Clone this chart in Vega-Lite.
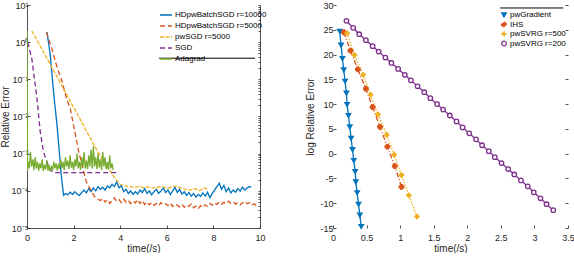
{
"$schema": "https://vega.github.io/schema/vega-lite/v6.json",
"padding": {"left": 0, "top": 1, "right": 0, "bottom": 0},
"bounds": "flush",
"spacing": 73,
"resolve": {"scale": {"color": "independent", "strokeDash": "independent", "shape": "independent", "fill": "independent"}, "legend": {"color": "independent", "strokeDash": "independent", "shape": "independent", "fill": "independent"}},
"config": {
  "font": "Liberation Sans",
  "view": {"stroke": null},
  "axis": {"grid": false, "labelFontSize": 9, "titleFontSize": 10, "titleFontWeight": "normal", "labelColor": "#262626", "titleColor": "#262626", "domainColor": "#262626", "tickColor": "#262626", "tickSize": -3, "labelPadding": 3, "titlePadding": 2, "domainWidth": 0.8, "tickWidth": 0.8, "labelOverlap": false, "labelFlush": false},
  "axisX": {"labelPadding": 8, "titlePadding": 1},
  "legend": {"labelFontSize": 8, "labelColor": "#000", "symbolSize": 144, "rowPadding": -1.5, "padding": 0, "labelOffset": 2, "symbolStrokeWidth": 1.5}
},
"datasets": {
"left": [
{"s":"HDpwBatchSGD r=10000","t":0.86,"e":1.86},{"s":"HDpwBatchSGD r=10000","t":1.0,"e":0.44},{"s":"HDpwBatchSGD r=10000","t":1.14,"e":0.045},{"s":"HDpwBatchSGD r=10000","t":1.29,"e":0.0057},{"s":"HDpwBatchSGD r=10000","t":1.4,"e":0.0009},{"s":"HDpwBatchSGD r=10000","t":1.47,"e":0.00026},{"s":"HDpwBatchSGD r=10000","t":1.57,"e":7.6e-5},
{"s":"HDpwBatchSGD r=10000","t":1.65,"e":8.5e-5},{"s":"HDpwBatchSGD r=10000","t":1.75,"e":7.8e-5},{"s":"HDpwBatchSGD r=10000","t":1.85,"e":9.2e-5},{"s":"HDpwBatchSGD r=10000","t":1.95,"e":8.0e-5},{"s":"HDpwBatchSGD r=10000","t":2.05,"e":9.5e-5},{"s":"HDpwBatchSGD r=10000","t":2.15,"e":8.2e-5},{"s":"HDpwBatchSGD r=10000","t":2.25,"e":7.5e-5},{"s":"HDpwBatchSGD r=10000","t":2.35,"e":9.0e-5},{"s":"HDpwBatchSGD r=10000","t":2.45,"e":1.05e-4},{"s":"HDpwBatchSGD r=10000","t":2.55,"e":8.8e-5},{"s":"HDpwBatchSGD r=10000","t":2.65,"e":1.15e-4},{"s":"HDpwBatchSGD r=10000","t":2.75,"e":9.5e-5},{"s":"HDpwBatchSGD r=10000","t":2.85,"e":1.2e-4},{"s":"HDpwBatchSGD r=10000","t":2.95,"e":1.0e-4},{"s":"HDpwBatchSGD r=10000","t":3.05,"e":1.3e-4},{"s":"HDpwBatchSGD r=10000","t":3.15,"e":1.1e-4},{"s":"HDpwBatchSGD r=10000","t":3.25,"e":1.25e-4},{"s":"HDpwBatchSGD r=10000","t":3.35,"e":1.05e-4},{"s":"HDpwBatchSGD r=10000","t":3.45,"e":1.35e-4},{"s":"HDpwBatchSGD r=10000","t":3.55,"e":1.2e-4},{"s":"HDpwBatchSGD r=10000","t":3.65,"e":1.5e-4},{"s":"HDpwBatchSGD r=10000","t":3.75,"e":1.3e-4},{"s":"HDpwBatchSGD r=10000","t":3.85,"e":1.75e-4},{"s":"HDpwBatchSGD r=10000","t":3.95,"e":1.2e-4},{"s":"HDpwBatchSGD r=10000","t":4.05,"e":1.4e-4},{"s":"HDpwBatchSGD r=10000","t":4.15,"e":9.5e-5},{"s":"HDpwBatchSGD r=10000","t":4.25,"e":1.1e-4},{"s":"HDpwBatchSGD r=10000","t":4.35,"e":8.5e-5},{"s":"HDpwBatchSGD r=10000","t":4.45,"e":1.0e-4},{"s":"HDpwBatchSGD r=10000","t":4.55,"e":8.0e-5},{"s":"HDpwBatchSGD r=10000","t":4.65,"e":9.5e-5},{"s":"HDpwBatchSGD r=10000","t":4.75,"e":8.2e-5},{"s":"HDpwBatchSGD r=10000","t":4.85,"e":1.05e-4},{"s":"HDpwBatchSGD r=10000","t":4.95,"e":9.0e-5},{"s":"HDpwBatchSGD r=10000","t":5.05,"e":1.15e-4},{"s":"HDpwBatchSGD r=10000","t":5.15,"e":8.5e-5},{"s":"HDpwBatchSGD r=10000","t":5.25,"e":1.0e-4},{"s":"HDpwBatchSGD r=10000","t":5.35,"e":7.8e-5},{"s":"HDpwBatchSGD r=10000","t":5.45,"e":9.5e-5},{"s":"HDpwBatchSGD r=10000","t":5.55,"e":1.1e-4},{"s":"HDpwBatchSGD r=10000","t":5.65,"e":8.5e-5},{"s":"HDpwBatchSGD r=10000","t":5.75,"e":1.0e-4},{"s":"HDpwBatchSGD r=10000","t":5.85,"e":1.2e-4},{"s":"HDpwBatchSGD r=10000","t":5.95,"e":9.0e-5},{"s":"HDpwBatchSGD r=10000","t":6.05,"e":1.05e-4},{"s":"HDpwBatchSGD r=10000","t":6.15,"e":8.0e-5},{"s":"HDpwBatchSGD r=10000","t":6.25,"e":9.8e-5},{"s":"HDpwBatchSGD r=10000","t":6.35,"e":1.25e-4},{"s":"HDpwBatchSGD r=10000","t":6.45,"e":9.0e-5},{"s":"HDpwBatchSGD r=10000","t":6.55,"e":1.1e-4},{"s":"HDpwBatchSGD r=10000","t":6.65,"e":8.2e-5},{"s":"HDpwBatchSGD r=10000","t":6.75,"e":9.5e-5},{"s":"HDpwBatchSGD r=10000","t":6.85,"e":7.5e-5},{"s":"HDpwBatchSGD r=10000","t":6.95,"e":9.0e-5},{"s":"HDpwBatchSGD r=10000","t":7.05,"e":7.2e-5},{"s":"HDpwBatchSGD r=10000","t":7.15,"e":8.5e-5},{"s":"HDpwBatchSGD r=10000","t":7.25,"e":6.8e-5},{"s":"HDpwBatchSGD r=10000","t":7.35,"e":8.0e-5},{"s":"HDpwBatchSGD r=10000","t":7.45,"e":7.0e-5},{"s":"HDpwBatchSGD r=10000","t":7.55,"e":8.8e-5},{"s":"HDpwBatchSGD r=10000","t":7.65,"e":7.2e-5},{"s":"HDpwBatchSGD r=10000","t":7.75,"e":9.2e-5},{"s":"HDpwBatchSGD r=10000","t":7.85,"e":6.5e-5},{"s":"HDpwBatchSGD r=10000","t":7.95,"e":8.5e-5},{"s":"HDpwBatchSGD r=10000","t":8.05,"e":1.05e-4},{"s":"HDpwBatchSGD r=10000","t":8.15,"e":1.3e-4},{"s":"HDpwBatchSGD r=10000","t":8.25,"e":1.6e-4},{"s":"HDpwBatchSGD r=10000","t":8.35,"e":1.1e-4},{"s":"HDpwBatchSGD r=10000","t":8.45,"e":1.4e-4},{"s":"HDpwBatchSGD r=10000","t":8.55,"e":9.5e-5},{"s":"HDpwBatchSGD r=10000","t":8.65,"e":1.2e-4},{"s":"HDpwBatchSGD r=10000","t":8.75,"e":8.8e-5},{"s":"HDpwBatchSGD r=10000","t":8.85,"e":1.05e-4},{"s":"HDpwBatchSGD r=10000","t":8.95,"e":9.2e-5},{"s":"HDpwBatchSGD r=10000","t":9.05,"e":1.15e-4},{"s":"HDpwBatchSGD r=10000","t":9.15,"e":9.8e-5},{"s":"HDpwBatchSGD r=10000","t":9.25,"e":1.25e-4},{"s":"HDpwBatchSGD r=10000","t":9.35,"e":1.05e-4},{"s":"HDpwBatchSGD r=10000","t":9.45,"e":1.2e-4},{"s":"HDpwBatchSGD r=10000","t":9.55,"e":1.3e-4},{"s":"HDpwBatchSGD r=10000","t":9.62,"e":1.25e-4},
{"s":"HDpwBatchSGD r=5000","t":0.83,"e":1.86},{"s":"HDpwBatchSGD r=5000","t":1.07,"e":0.66},{"s":"HDpwBatchSGD r=5000","t":1.3,"e":0.2},{"s":"HDpwBatchSGD r=5000","t":1.5,"e":0.09},{"s":"HDpwBatchSGD r=5000","t":1.7,"e":0.03},{"s":"HDpwBatchSGD r=5000","t":1.86,"e":0.016},{"s":"HDpwBatchSGD r=5000","t":2.05,"e":0.004},{"s":"HDpwBatchSGD r=5000","t":2.21,"e":0.0012},{"s":"HDpwBatchSGD r=5000","t":2.4,"e":0.0004},{"s":"HDpwBatchSGD r=5000","t":2.54,"e":0.00018},{"s":"HDpwBatchSGD r=5000","t":2.75,"e":1.0e-4},{"s":"HDpwBatchSGD r=5000","t":2.9,"e":7e-5},{"s":"HDpwBatchSGD r=5000","t":3.03,"e":6e-5},{"s":"HDpwBatchSGD r=5000","t":3.15,"e":5.5e-5},
{"s":"HDpwBatchSGD r=5000","t":3.25,"e":6.2e-5},{"s":"HDpwBatchSGD r=5000","t":3.35,"e":5.0e-5},{"s":"HDpwBatchSGD r=5000","t":3.45,"e":5.8e-5},{"s":"HDpwBatchSGD r=5000","t":3.55,"e":4.6e-5},{"s":"HDpwBatchSGD r=5000","t":3.65,"e":5.5e-5},{"s":"HDpwBatchSGD r=5000","t":3.75,"e":6.5e-5},{"s":"HDpwBatchSGD r=5000","t":3.85,"e":5.2e-5},{"s":"HDpwBatchSGD r=5000","t":3.95,"e":5.8e-5},{"s":"HDpwBatchSGD r=5000","t":4.05,"e":4.8e-5},{"s":"HDpwBatchSGD r=5000","t":4.15,"e":6.0e-5},{"s":"HDpwBatchSGD r=5000","t":4.25,"e":5.0e-5},{"s":"HDpwBatchSGD r=5000","t":4.35,"e":5.6e-5},{"s":"HDpwBatchSGD r=5000","t":4.45,"e":4.5e-5},{"s":"HDpwBatchSGD r=5000","t":4.55,"e":5.3e-5},{"s":"HDpwBatchSGD r=5000","t":4.65,"e":4.7e-5},{"s":"HDpwBatchSGD r=5000","t":4.75,"e":5.8e-5},{"s":"HDpwBatchSGD r=5000","t":4.85,"e":4.6e-5},{"s":"HDpwBatchSGD r=5000","t":4.95,"e":5.5e-5},{"s":"HDpwBatchSGD r=5000","t":5.05,"e":4.3e-5},{"s":"HDpwBatchSGD r=5000","t":5.15,"e":5.0e-5},{"s":"HDpwBatchSGD r=5000","t":5.25,"e":4.2e-5},{"s":"HDpwBatchSGD r=5000","t":5.35,"e":4.9e-5},{"s":"HDpwBatchSGD r=5000","t":5.45,"e":4.1e-5},{"s":"HDpwBatchSGD r=5000","t":5.55,"e":4.6e-5},{"s":"HDpwBatchSGD r=5000","t":5.65,"e":4.0e-5},{"s":"HDpwBatchSGD r=5000","t":5.75,"e":4.8e-5},{"s":"HDpwBatchSGD r=5000","t":5.85,"e":4.2e-5},{"s":"HDpwBatchSGD r=5000","t":5.95,"e":4.5e-5},{"s":"HDpwBatchSGD r=5000","t":6.05,"e":4.0e-5},{"s":"HDpwBatchSGD r=5000","t":6.15,"e":4.7e-5},{"s":"HDpwBatchSGD r=5000","t":6.25,"e":3.8e-5},{"s":"HDpwBatchSGD r=5000","t":6.35,"e":4.4e-5},{"s":"HDpwBatchSGD r=5000","t":6.45,"e":4.1e-5},{"s":"HDpwBatchSGD r=5000","t":6.55,"e":3.7e-5},{"s":"HDpwBatchSGD r=5000","t":6.65,"e":4.3e-5},{"s":"HDpwBatchSGD r=5000","t":6.75,"e":3.6e-5},{"s":"HDpwBatchSGD r=5000","t":6.85,"e":4.2e-5},{"s":"HDpwBatchSGD r=5000","t":6.95,"e":3.8e-5},{"s":"HDpwBatchSGD r=5000","t":7.05,"e":4.4e-5},{"s":"HDpwBatchSGD r=5000","t":7.15,"e":3.5e-5},{"s":"HDpwBatchSGD r=5000","t":7.25,"e":3.9e-5},{"s":"HDpwBatchSGD r=5000","t":7.35,"e":3.3e-5},{"s":"HDpwBatchSGD r=5000","t":7.45,"e":4.0e-5},{"s":"HDpwBatchSGD r=5000","t":7.55,"e":3.6e-5},{"s":"HDpwBatchSGD r=5000","t":7.65,"e":4.2e-5},{"s":"HDpwBatchSGD r=5000","t":7.75,"e":3.8e-5},{"s":"HDpwBatchSGD r=5000","t":7.85,"e":4.6e-5},{"s":"HDpwBatchSGD r=5000","t":7.95,"e":4.1e-5},{"s":"HDpwBatchSGD r=5000","t":8.05,"e":4.8e-5},{"s":"HDpwBatchSGD r=5000","t":8.15,"e":4.3e-5},{"s":"HDpwBatchSGD r=5000","t":8.25,"e":5.0e-5},{"s":"HDpwBatchSGD r=5000","t":8.35,"e":4.4e-5},{"s":"HDpwBatchSGD r=5000","t":8.45,"e":4.9e-5},{"s":"HDpwBatchSGD r=5000","t":8.55,"e":4.5e-5},{"s":"HDpwBatchSGD r=5000","t":8.65,"e":5.3e-5},{"s":"HDpwBatchSGD r=5000","t":8.75,"e":4.6e-5},{"s":"HDpwBatchSGD r=5000","t":8.85,"e":5.0e-5},{"s":"HDpwBatchSGD r=5000","t":8.95,"e":4.4e-5},{"s":"HDpwBatchSGD r=5000","t":9.05,"e":4.8e-5},{"s":"HDpwBatchSGD r=5000","t":9.15,"e":4.2e-5},{"s":"HDpwBatchSGD r=5000","t":9.25,"e":4.7e-5},{"s":"HDpwBatchSGD r=5000","t":9.35,"e":5.2e-5},{"s":"HDpwBatchSGD r=5000","t":9.45,"e":4.5e-5},{"s":"HDpwBatchSGD r=5000","t":9.55,"e":4.8e-5},{"s":"HDpwBatchSGD r=5000","t":9.65,"e":4.1e-5},{"s":"HDpwBatchSGD r=5000","t":9.75,"e":4.5e-5},{"s":"HDpwBatchSGD r=5000","t":9.85,"e":3.9e-5},{"s":"HDpwBatchSGD r=5000","t":9.95,"e":4.2e-5},
{"s":"pwSGD r=5000","t":0.21,"e":2.0},{"s":"pwSGD r=5000","t":0.6,"e":0.72},{"s":"pwSGD r=5000","t":1.0,"e":0.25},{"s":"pwSGD r=5000","t":1.4,"e":0.087},{"s":"pwSGD r=5000","t":1.8,"e":0.03},{"s":"pwSGD r=5000","t":2.2,"e":0.0105},{"s":"pwSGD r=5000","t":2.6,"e":0.0036},{"s":"pwSGD r=5000","t":3.0,"e":0.00125},{"s":"pwSGD r=5000","t":3.3,"e":0.0006},{"s":"pwSGD r=5000","t":3.5,"e":0.0004},{"s":"pwSGD r=5000","t":3.7,"e":0.00026},{"s":"pwSGD r=5000","t":3.85,"e":0.00019},{"s":"pwSGD r=5000","t":4.0,"e":1.5e-4},{"s":"pwSGD r=5000","t":4.2,"e":1.35e-4},{"s":"pwSGD r=5000","t":4.4,"e":1.3e-4},{"s":"pwSGD r=5000","t":4.6,"e":1.25e-4},{"s":"pwSGD r=5000","t":4.8,"e":1.3e-4},{"s":"pwSGD r=5000","t":5.0,"e":1.22e-4},{"s":"pwSGD r=5000","t":5.2,"e":1.28e-4},{"s":"pwSGD r=5000","t":5.4,"e":1.2e-4},{"s":"pwSGD r=5000","t":5.6,"e":1.25e-4},{"s":"pwSGD r=5000","t":5.8,"e":1.3e-4},{"s":"pwSGD r=5000","t":6.0,"e":1.18e-4},{"s":"pwSGD r=5000","t":6.2,"e":1.25e-4},{"s":"pwSGD r=5000","t":6.4,"e":1.35e-4},{"s":"pwSGD r=5000","t":6.6,"e":1.2e-4},{"s":"pwSGD r=5000","t":6.8,"e":1.1e-4},{"s":"pwSGD r=5000","t":7.0,"e":1.05e-4},{"s":"pwSGD r=5000","t":7.2,"e":1.15e-4},{"s":"pwSGD r=5000","t":7.4,"e":1.0e-4},{"s":"pwSGD r=5000","t":7.6,"e":1.2e-4},{"s":"pwSGD r=5000","t":7.8,"e":1.1e-4},
{"s":"SGD","t":0.03,"e":1.0},{"s":"SGD","t":0.21,"e":0.35},{"s":"SGD","t":0.43,"e":0.03},{"s":"SGD","t":0.57,"e":0.0038},{"s":"SGD","t":0.71,"e":0.0011},{"s":"SGD","t":0.86,"e":0.00059},{"s":"SGD","t":1.0,"e":0.00036},{"s":"SGD","t":1.2,"e":0.00031},{"s":"SGD","t":3.86,"e":0.00031},
{"s":"Adagrad","t":0.0,"e":2.0},{"s":"Adagrad","t":0.02,"e":3.5e-4},{"s":"Adagrad","t":0.05,"e":6e-4},{"s":"Adagrad","t":0.1,"e":4e-4},{"s":"Adagrad","t":0.15,"e":1.1e-3},{"s":"Adagrad","t":0.2,"e":4.5e-4},{"s":"Adagrad","t":0.25,"e":7e-4},{"s":"Adagrad","t":0.3,"e":3.6e-4},{"s":"Adagrad","t":0.35,"e":8e-4},{"s":"Adagrad","t":0.4,"e":4e-4},{"s":"Adagrad","t":0.45,"e":6e-4},{"s":"Adagrad","t":0.5,"e":3.5e-4},{"s":"Adagrad","t":0.55,"e":5.5e-4},{"s":"Adagrad","t":0.6,"e":4e-4},{"s":"Adagrad","t":0.65,"e":7e-4},{"s":"Adagrad","t":0.7,"e":3.4e-4},{"s":"Adagrad","t":0.75,"e":5e-4},{"s":"Adagrad","t":0.8,"e":3.8e-4},{"s":"Adagrad","t":0.85,"e":6.5e-4},{"s":"Adagrad","t":0.9,"e":3.5e-4},{"s":"Adagrad","t":0.95,"e":5e-4},{"s":"Adagrad","t":1.0,"e":3.3e-4},{"s":"Adagrad","t":1.05,"e":4.5e-4},{"s":"Adagrad","t":1.1,"e":3.6e-4},{"s":"Adagrad","t":1.15,"e":6e-4},{"s":"Adagrad","t":1.2,"e":4e-4},{"s":"Adagrad","t":1.25,"e":5.5e-4},{"s":"Adagrad","t":1.3,"e":3.5e-4},{"s":"Adagrad","t":1.35,"e":5e-4},{"s":"Adagrad","t":1.4,"e":4.2e-4},{"s":"Adagrad","t":1.45,"e":7e-4},{"s":"Adagrad","t":1.5,"e":4e-4},{"s":"Adagrad","t":1.55,"e":6e-4},{"s":"Adagrad","t":1.6,"e":3.6e-4},{"s":"Adagrad","t":1.65,"e":8e-4},{"s":"Adagrad","t":1.7,"e":4.5e-4},{"s":"Adagrad","t":1.75,"e":6.5e-4},{"s":"Adagrad","t":1.8,"e":3.8e-4},{"s":"Adagrad","t":1.85,"e":9e-4},{"s":"Adagrad","t":1.9,"e":4.2e-4},{"s":"Adagrad","t":1.95,"e":6e-4},{"s":"Adagrad","t":2.0,"e":3.6e-4},{"s":"Adagrad","t":2.05,"e":7e-4},{"s":"Adagrad","t":2.1,"e":4.5e-4},{"s":"Adagrad","t":2.15,"e":1.0e-3},{"s":"Adagrad","t":2.2,"e":4e-4},{"s":"Adagrad","t":2.25,"e":6e-4},{"s":"Adagrad","t":2.3,"e":3.7e-4},{"s":"Adagrad","t":2.35,"e":8e-4},{"s":"Adagrad","t":2.4,"e":4.4e-4},{"s":"Adagrad","t":2.45,"e":1.1e-3},{"s":"Adagrad","t":2.5,"e":4e-4},{"s":"Adagrad","t":2.55,"e":6.5e-4},{"s":"Adagrad","t":2.6,"e":3.8e-4},{"s":"Adagrad","t":2.65,"e":9e-4},{"s":"Adagrad","t":2.7,"e":4.5e-4},{"s":"Adagrad","t":2.75,"e":1.3e-3},{"s":"Adagrad","t":2.8,"e":4e-4},{"s":"Adagrad","t":2.85,"e":1.6e-3},{"s":"Adagrad","t":2.9,"e":4.5e-4},{"s":"Adagrad","t":2.95,"e":8e-4},{"s":"Adagrad","t":3.0,"e":3.8e-4},{"s":"Adagrad","t":3.05,"e":1.0e-3},{"s":"Adagrad","t":3.1,"e":4.2e-4},{"s":"Adagrad","t":3.15,"e":7e-4},{"s":"Adagrad","t":3.2,"e":3.6e-4},{"s":"Adagrad","t":3.25,"e":1.1e-3},{"s":"Adagrad","t":3.3,"e":4.5e-4},{"s":"Adagrad","t":3.35,"e":8e-4},{"s":"Adagrad","t":3.4,"e":3.8e-4},{"s":"Adagrad","t":3.45,"e":6e-4},{"s":"Adagrad","t":3.5,"e":3.7e-4},{"s":"Adagrad","t":3.55,"e":9e-4},{"s":"Adagrad","t":3.6,"e":4e-4},{"s":"Adagrad","t":3.65,"e":5.5e-4},{"s":"Adagrad","t":3.7,"e":3.6e-4}
],
"right": [
{"s":"pwGradient","t":0.1,"y":24.7},{"s":"pwGradient","t":0.12,"y":21.9},{"s":"pwGradient","t":0.14,"y":19.2},{"s":"pwGradient","t":0.16,"y":16.9},{"s":"pwGradient","t":0.18,"y":14.6},{"s":"pwGradient","t":0.2,"y":12.2},{"s":"pwGradient","t":0.21,"y":9.9},{"s":"pwGradient","t":0.23,"y":7.7},{"s":"pwGradient","t":0.25,"y":5.4},{"s":"pwGradient","t":0.27,"y":3.1},{"s":"pwGradient","t":0.29,"y":0.8},{"s":"pwGradient","t":0.31,"y":-1.4},{"s":"pwGradient","t":0.33,"y":-3.6},{"s":"pwGradient","t":0.34,"y":-5.7},{"s":"pwGradient","t":0.36,"y":-7.9},{"s":"pwGradient","t":0.38,"y":-10.2},{"s":"pwGradient","t":0.4,"y":-12.4},{"s":"pwGradient","t":0.42,"y":-14.7},
{"s":"IHS","t":0.16,"y":24.5},{"s":"IHS","t":0.26,"y":20.8},{"s":"IHS","t":0.37,"y":17.0},{"s":"IHS","t":0.49,"y":13.1},{"s":"IHS","t":0.59,"y":9.4},{"s":"IHS","t":0.7,"y":5.4},{"s":"IHS","t":0.81,"y":1.4},{"s":"IHS","t":0.92,"y":-2.5},{"s":"IHS","t":1.02,"y":-6.7},
{"s":"pwSVRG r=500","t":0.21,"y":24.3},{"s":"pwSVRG r=500","t":0.32,"y":19.9},{"s":"pwSVRG r=500","t":0.45,"y":15.9},{"s":"pwSVRG r=500","t":0.56,"y":11.9},{"s":"pwSVRG r=500","t":0.67,"y":7.9},{"s":"pwSVRG r=500","t":0.8,"y":3.8},{"s":"pwSVRG r=500","t":0.91,"y":-0.2},{"s":"pwSVRG r=500","t":1.02,"y":-4.3},{"s":"pwSVRG r=500","t":1.13,"y":-8.4},{"s":"pwSVRG r=500","t":1.25,"y":-12.7},
{"s":"pwSVRG r=200","t":0.2,"y":26.8},{"s":"pwSVRG r=200","t":0.3,"y":25.4},{"s":"pwSVRG r=200","t":0.39,"y":24.1},{"s":"pwSVRG r=200","t":0.49,"y":22.9},{"s":"pwSVRG r=200","t":0.59,"y":21.7},{"s":"pwSVRG r=200","t":0.68,"y":20.6},{"s":"pwSVRG r=200","t":0.78,"y":19.4},{"s":"pwSVRG r=200","t":0.87,"y":18.3},{"s":"pwSVRG r=200","t":0.97,"y":17.1},{"s":"pwSVRG r=200","t":1.07,"y":15.9},{"s":"pwSVRG r=200","t":1.16,"y":14.8},{"s":"pwSVRG r=200","t":1.26,"y":13.6},{"s":"pwSVRG r=200","t":1.36,"y":12.4},{"s":"pwSVRG r=200","t":1.45,"y":11.2},{"s":"pwSVRG r=200","t":1.55,"y":10.0},{"s":"pwSVRG r=200","t":1.64,"y":8.9},{"s":"pwSVRG r=200","t":1.74,"y":7.7},{"s":"pwSVRG r=200","t":1.84,"y":6.5},{"s":"pwSVRG r=200","t":1.93,"y":5.3},{"s":"pwSVRG r=200","t":2.03,"y":4.1},{"s":"pwSVRG r=200","t":2.13,"y":2.9},{"s":"pwSVRG r=200","t":2.22,"y":1.7},{"s":"pwSVRG r=200","t":2.32,"y":0.5},{"s":"pwSVRG r=200","t":2.41,"y":-0.7},{"s":"pwSVRG r=200","t":2.51,"y":-1.9},{"s":"pwSVRG r=200","t":2.61,"y":-3.1},{"s":"pwSVRG r=200","t":2.7,"y":-4.2},{"s":"pwSVRG r=200","t":2.8,"y":-5.4},{"s":"pwSVRG r=200","t":2.9,"y":-6.6},{"s":"pwSVRG r=200","t":2.99,"y":-7.8},{"s":"pwSVRG r=200","t":3.09,"y":-9.0},{"s":"pwSVRG r=200","t":3.18,"y":-10.2},{"s":"pwSVRG r=200","t":3.28,"y":-11.4}
]
},
"hconcat": [
{
  "width": 233, "height": 223,
  "resolve": {"scale": {"y": "independent"}},
  "layer": [
    {
      "data": {"name": "left"},
      "mark": {"type": "line", "strokeWidth": 1.3, "clip": true},
      "encoding": {
        "x": {"field": "t", "type": "quantitative", "scale": {"domain": [0, 10]}, "axis": {"values": [0, 2, 4, 6, 8, 10], "title": "time(/s)", "labelOverlap": false}},
        "y": {"field": "e", "type": "quantitative", "scale": {"type": "log", "domain": [0.00001, 10]}, "axis": {"values": [0.00001, 0.0001, 0.001, 0.01, 0.1, 1, 10], "labelExpr": "'10' + ['⁻⁵','⁻⁴','⁻³','⁻²','⁻¹','⁰','¹'][round(log(datum.value)/LN10)+5]", "title": "Relative Error", "titlePadding": 1, "labelPadding": 2, "labelOverlap": false}},
        "color": {"field": "s", "type": "nominal", "scale": {"domain": ["HDpwBatchSGD r=10000", "HDpwBatchSGD r=5000", "pwSGD r=5000", "SGD", "Adagrad"], "range": ["#0072BD", "#D95319", "#EDB120", "#7E2F8E", "#77AC30"]}, "legend": {"title": null, "orient": "none", "legendX": 132, "legendY": 3, "symbolType": "stroke"}},
        "strokeDash": {"field": "s", "type": "nominal", "scale": {"domain": ["HDpwBatchSGD r=10000", "HDpwBatchSGD r=5000", "pwSGD r=5000", "SGD", "Adagrad"], "range": [[1, 0], [5, 3], [4, 1.5], [5, 3], [1, 0]]}, "legend": {"title": null, "orient": "none", "legendX": 132, "legendY": 3, "symbolType": "stroke"}}
      }
    },
    {
      "data": {"values": [{}]},
      "mark": {"type": "rule", "color": "#000", "strokeWidth": 1},
      "encoding": {
        "x": {"datum": 5.67, "axis": {"values": [0, 2, 4, 6, 8, 10], "title": "time(/s)", "labelOverlap": false}}, "x2": {"datum": 9.79},
        "y": {"datum": 0.37, "scale": {"type": "log", "domain": [0.00001, 10]}, "axis": {"orient": "right", "title": null, "labels": false, "tickSize": -2, "values": [0.00001, 0.00002, 0.00003, 0.00004, 0.00005, 0.00006, 0.00007, 0.00008, 0.00009, 0.0001, 0.0002, 0.0003, 0.0004, 0.0005, 0.0006, 0.0007, 0.0008, 0.0009, 0.001, 0.002, 0.003, 0.004, 0.005, 0.006, 0.007, 0.008, 0.009, 0.01, 0.02, 0.03, 0.04, 0.05, 0.06, 0.07, 0.08, 0.09, 0.1, 0.2, 0.3, 0.4, 0.5, 0.6, 0.7, 0.8, 0.9, 1, 2, 3, 4, 5, 6, 7, 8, 9, 10]}}
      }
    }
  ]
},
{
  "width": 235, "height": 223,
  "resolve": {"scale": {"y": "independent"}},
  "layer": [
    {
      "data": {"name": "right"},
      "mark": {"type": "line", "strokeWidth": 1.3},
      "encoding": {
        "x": {"field": "t", "type": "quantitative", "scale": {"domain": [0, 3.5]}, "axis": {"values": [0, 0.5, 1, 1.5, 2, 2.5, 3, 3.5], "labelExpr": "toString(datum.value)", "title": "time(/s)", "domain": false, "labelOverlap": false}},
        "y": {"field": "y", "type": "quantitative", "scale": {"domain": [-15, 30]}, "axis": {"values": [-15, -10, -5, 0, 5, 10, 15, 20, 25, 30], "labelExpr": "replace(datum.label, '−', '-')", "title": "log Relative Error", "domain": false, "titlePadding": 4, "labelOverlap": false}},
        "color": {"field": "s", "type": "nominal", "scale": {"domain": ["pwGradient", "IHS", "pwSVRG r=500", "pwSVRG r=200"], "range": ["#0072BD", "#D95319", "#EDB120", "#7E2F8E"]}, "legend": {"title": null, "orient": "none", "legendX": 167, "legendY": 6, "symbolSize": 22, "rowPadding": -0.5, "symbolStrokeWidth": 1.2}},
        "strokeDash": {"field": "s", "type": "nominal", "scale": {"domain": ["pwGradient", "IHS", "pwSVRG r=500", "pwSVRG r=200"], "range": [[1, 0], [5, 2, 1, 2], [1.5, 1.5], [1, 0]]}, "legend": null}
      }
    },
    {
      "data": {"name": "right"},
      "mark": {"type": "point", "filled": false, "size": 20, "strokeWidth": 1.3, "opacity": 1},
      "encoding": {
        "x": {"field": "t", "type": "quantitative", "axis": {"values": [0, 0.5, 1, 1.5, 2, 2.5, 3, 3.5], "labelExpr": "toString(datum.value)", "title": "time(/s)", "domain": false, "labelOverlap": false}},
        "y": {"field": "y", "type": "quantitative", "scale": {"domain": [-15, 30]}, "axis": null},
        "color": {"field": "s", "type": "nominal", "scale": {"domain": ["pwGradient", "IHS", "pwSVRG r=500", "pwSVRG r=200"], "range": ["#0072BD", "#D95319", "#EDB120", "#7E2F8E"]}, "legend": {"title": null, "orient": "none", "legendX": 167, "legendY": 6, "symbolSize": 22, "rowPadding": -0.5, "symbolStrokeWidth": 1.2}},
        "fill": {"field": "s", "type": "nominal", "scale": {"domain": ["pwGradient", "IHS", "pwSVRG r=500", "pwSVRG r=200"], "range": ["#0072BD", "#D95319", "#EDB120", "#ffffff"]}, "legend": {"title": null, "orient": "none", "legendX": 167, "legendY": 6, "symbolSize": 22, "rowPadding": -0.5, "symbolStrokeWidth": 1.2}},
        "shape": {"field": "s", "type": "nominal", "scale": {"domain": ["pwGradient", "IHS", "pwSVRG r=500", "pwSVRG r=200"], "range": ["triangle-down", "cross", "diamond", "circle"]}, "legend": {"title": null, "orient": "none", "legendX": 167, "legendY": 6, "symbolSize": 22, "rowPadding": -0.5, "symbolStrokeWidth": 1.2}}
      }
    },
    {
      "data": {"values": [{}]},
      "mark": {"type": "rule", "color": "#000", "strokeWidth": 1},
      "encoding": {
        "x": {"datum": 2.49, "axis": {"values": [0, 0.5, 1, 1.5, 2, 2.5, 3, 3.5], "labelExpr": "toString(datum.value)", "title": "time(/s)", "domain": false, "labelOverlap": false}}, "x2": {"datum": 3.43},
        "y": {"datum": 29.4, "scale": {"domain": [-15, 30]}, "axis": {"orient": "right", "title": null, "labels": false, "domain": false, "values": [-15, -10, -5, 0, 5, 10, 15, 20, 25, 30]}}
      }
    }
  ]
}
]
}
